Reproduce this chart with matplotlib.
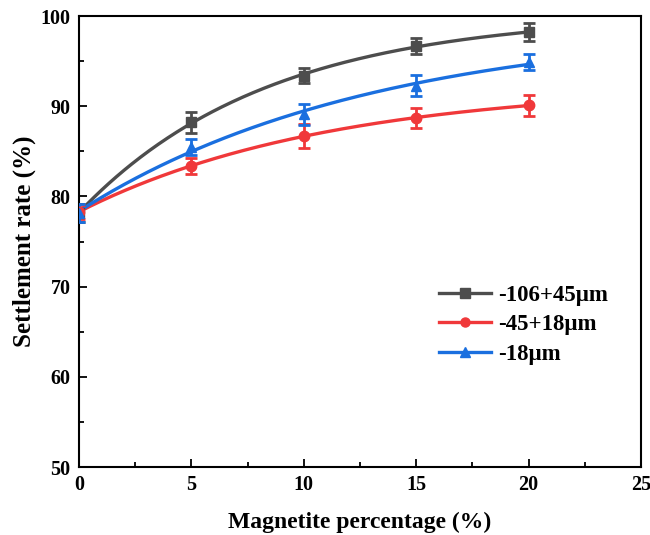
import numpy as np
import matplotlib
matplotlib.use("Agg")
import matplotlib.pyplot as plt
from matplotlib.ticker import MultipleLocator

x = [0, 5, 10, 15, 20]
labels = ["-106+45μm", "-45+18μm", "-18μm"]
y_coarse = [78.2, 88.2, 93.4, 96.7, 98.2]
y_medium = [78.3, 83.4, 86.7, 88.7, 90.1]
y_fine = [78.2, 85.5, 89.1, 92.3, 94.9]
err_coarse = [1.0, 1.2, 0.8, 0.9, 1.0]
err_medium = [0.8, 0.9, 1.3, 1.1, 1.2]
err_fine = [1.0, 0.9, 1.2, 1.2, 0.9]
colors = ["#4d4d4d", "#f0383a", "#1a6fdf"]
markers = ["s", "o", "^"]

plt.rcParams['font.family'] = ['Liberation Serif', 'DejaVu Serif']
plt.rcParams['font.weight'] = 'bold'

fig = plt.figure(figsize=(6.5, 5.35), dpi=100)
ax = fig.add_axes([0.1215, 0.127, 0.8645, 0.843])


def exp_fit(xs, ys):
    xs = np.asarray(xs, float)
    ys = np.asarray(ys, float)
    best = None
    for c in np.linspace(0.005, 0.5, 2000):
        A = np.column_stack([np.ones_like(xs), -np.exp(-c * xs)])
        coef, res, *_ = np.linalg.lstsq(A, ys, rcond=None)
        r = np.sum((A @ coef - ys) ** 2)
        if best is None or r < best[0]:
            best = (r, coef[0], coef[1], c)
    _, a, b, c = best
    return lambda t: a - b * np.exp(-c * t)


xx = np.linspace(0, 20, 300)
for ys, es, col, mk, lab in zip([y_coarse, y_medium, y_fine],
                                [err_coarse, err_medium, err_fine],
                                colors, markers, labels):
    f = exp_fit(x, ys)
    ax.plot(xx, f(xx), color=col, lw=2.4, zorder=2)
    ax.errorbar(x, ys, yerr=es, fmt=mk, color=col, ms=7.5, capsize=4,
                elinewidth=2, capthick=2, zorder=3)
    ax.plot([], [], color=col, lw=2.4, marker=mk, ms=6.5, label=lab)

ax.set_xlim(0, 25)
ax.set_ylim(50, 100)
ax.xaxis.set_major_locator(MultipleLocator(5))
ax.xaxis.set_minor_locator(MultipleLocator(2.5))
ax.yaxis.set_major_locator(MultipleLocator(10))
ax.yaxis.set_minor_locator(MultipleLocator(5))
ax.tick_params(which='both', direction='in', top=False, right=False, width=1.3)
ax.tick_params(which='major', length=6, labelsize=14.5, pad=6)
ax.tick_params(which='minor', length=3.5)
for lbl in ax.get_xticklabels() + ax.get_yticklabels():
    lbl.set_fontweight('bold')
for s in ax.spines.values():
    s.set_linewidth(1.5)

ax.set_xlabel("Magnetite percentage (%)", fontsize=17, fontweight='bold', labelpad=12)
ax.set_ylabel("Settlement rate (%)", fontsize=18, fontweight='bold', labelpad=3)

leg = ax.legend(loc='upper left', bbox_to_anchor=(0.624, 0.425), borderaxespad=0,
                frameon=False, prop={'size': 16.5, 'weight': 'bold'},
                handlelength=2.3, handletextpad=0.3, labelspacing=0.38)

fig.savefig("out.png", dpi=100)
